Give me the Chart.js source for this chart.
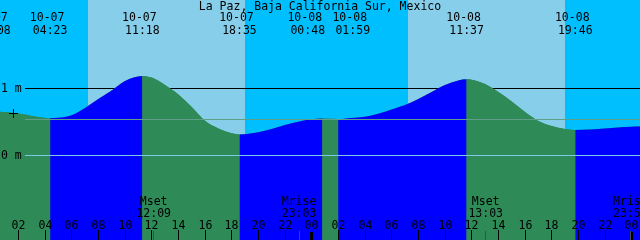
<!DOCTYPE html>
<html>
<head>
<meta charset="utf-8">
<script src="https://cdn.jsdelivr.net/npm/chart.js@4"></script>
<style>
    body { margin: 0; background: #00bfff; }
    canvas { display: block; }
</style>
</head>
<body>
<canvas id="tideChart" width="640" height="240"></canvas>
<script>
// Tide graph, hours counted from 10-07 00:00

const stationName = "La Paz, Baja California Sur, Mexico";

// water level (m)
const tideHours = [0.133, 1, 2, 3, 4, 4.383, 5, 6, 7, 8, 9, 10, 11.3,
    12, 13, 14, 15, 16, 17, 18, 18.583, 20, 21, 22, 23, 24, 24.8, 25.983,
    27, 28, 29, 30, 31, 32, 33, 34, 35, 35.617, 36, 37, 38, 39, 40, 41, 42,
    43, 43.767, 45, 46, 47, 48, 49];
const tideLevels = [0.655, 0.645, 0.622, 0.588, 0.558, 0.552, 0.559, 0.598, 0.706, 0.84, 0.967, 1.109, 1.184,
    1.16, 1.049, 0.907, 0.72, 0.515, 0.40, 0.328, 0.31, 0.343, 0.393, 0.452, 0.50, 0.537, 0.549, 0.540,
    0.556, 0.576, 0.619, 0.684, 0.751, 0.84, 0.945, 1.049, 1.116, 1.134, 1.128, 1.064, 0.945, 0.803, 0.646, 0.512, 0.437,
    0.393, 0.378, 0.385, 0.40, 0.415, 0.425, 0.43];

// high and low tides listed along the top
const eventDates = ["10-07", "10-07", "10-07", "10-07", "10-08", "10-08", "10-08", "10-08"];
const eventTimes = ["00:08", "04:23", "11:18", "18:35", "00:48", "01:59", "11:37", "19:46"];

// daylight
const sunriseDates = ["10-07", "10-08"];
const sunriseTimes = ["07:12", "07:13"];
const sunsetDates = ["10-07", "10-08"];
const sunsetTimes = ["19:00", "19:00"];

// moon events along the bottom
const moonNames = ["Mset", "Mrise", "Mset", "Mrise"];
const moonDates = ["10-07", "10-07", "10-08", "10-08"];
const moonTimes = ["12:09", "23:03", "13:03", "23:54"];

// level marks
const levelTicks = [0, 1];
const levelLabels = ["0 m", "1 m"];
const meanLevel = 0.53;
const markLevel = 0.63;

// hour ticks along the bottom
const hourTicks = [2, 4, 6, 8, 10, 12, 14, 16, 18, 20, 22, 24,
    26, 28, 30, 32, 34, 36, 38, 40, 42, 44, 46, 48];

const FONT = "11.5px 'DejaVu Sans Mono', monospace";
const RISING = "#0000ff";
const FALLING = "#2e8b57";

function toHours(date, time) {
    const day = parseInt(date.slice(3), 10) - 7;
    const [hh, mm] = time.split(":").map(Number);
    return day * 24 + hh + mm / 60;
}

const tidePlugin = {
    id: "tideGraph",
    beforeDatasetsDraw(chart) {
        const { ctx, chartArea: a, scales: { x, y } } = chart;
        ctx.save();
        // night sky
        ctx.fillStyle = "#00bfff";
        ctx.fillRect(a.left, a.top, a.width, a.height);
        // day sky
        ctx.fillStyle = "#87ceeb";
        sunriseDates.forEach((d, i) => {
            const x0 = Math.round(x.getPixelForValue(toHours(d, sunriseTimes[i])));
            const x1 = Math.round(x.getPixelForValue(toHours(sunsetDates[i], sunsetTimes[i])));
            ctx.fillRect(x0, a.top, x1 - x0, a.height);
        });
        // 1 m line sits behind the water
        ctx.fillStyle = "#000";
        ctx.fillRect(25, Math.floor(y.getPixelForValue(1)), a.right - 25, 1);
        ctx.restore();
    },
    afterDatasetsDraw(chart) {
        const { ctx, chartArea: a, scales: { x, y } } = chart;
        ctx.save();

        ctx.fillStyle = "#5f9f8a";
        ctx.fillRect(25, Math.floor(y.getPixelForValue(meanLevel)), a.right - 25, 1);
        ctx.fillStyle = "#7ec8e6";
        ctx.fillRect(25, Math.floor(y.getPixelForValue(0)), a.right - 25, 1);

        ctx.font = FONT;
        ctx.fillStyle = "#000";

        // level labels
        ctx.textAlign = "left";
        ctx.textBaseline = "middle";
        levelTicks.forEach((v, i) => {
            ctx.fillText(levelLabels[i], 1, y.getPixelForValue(v) + 0.5);
        });
        // "+" mark, drawn as a small cross
        const my = Math.floor(y.getPixelForValue(markLevel));
        ctx.fillRect(9, my, 9, 1);
        ctx.fillRect(13, my - 4, 1, 9);

        // title
        ctx.textAlign = "center";
        ctx.textBaseline = "alphabetic";
        ctx.fillText(stationName, 320, 10);

        // tide events, pushed apart when they crowd each other
        const centers = eventTimes.map((t, i) => x.getPixelForValue(toHours(eventDates[i], t)));
        for (let i = 0; i < centers.length - 1; i++) {
            if (centers[i + 1] - centers[i] < 45) {
                const mid = (centers[i] + centers[i + 1]) / 2;
                centers[i] = mid - 22.5;
                centers[i + 1] = mid + 22.5;
            }
        }
        centers.forEach((cx, i) => {
            ctx.fillText(eventDates[i], cx - 3, 21);
            ctx.fillText(eventTimes[i], cx, 34);
        });

        // hour ticks
        hourTicks.forEach(h => {
            const px = Math.floor(x.getPixelForValue(h));
            if (h % 24 === 0) {
                ctx.fillRect(px - 1, 232, 3, 8);
            } else {
                ctx.fillRect(px, 230, 1, 10);
            }
            ctx.fillText(String(h % 24).padStart(2, "0"), px + 0.5, 229);
        });

        // moon events
        moonNames.forEach((name, i) => {
            const px = x.getPixelForValue(toHours(moonDates[i], moonTimes[i]));
            ctx.fillStyle = "#4a4a4a";
            ctx.fillRect(Math.floor(px), 231, 1, 9);
            ctx.fillStyle = "#000";
            ctx.fillText(name, px, 205);
            ctx.fillText(moonTimes[i], px, 217);
        });

        ctx.restore();
    }
};

const tidePoints = tideHours.map((h, i) => ({ x: h, y: tideLevels[i] }));

new Chart(document.getElementById("tideChart").getContext("2d"), {
    type: "line",
    data: {
        datasets: [{
            // water, coloured by rising / falling tide
            data: tidePoints,
            fill: "start",
            borderWidth: 0,
            borderColor: "transparent",
            pointRadius: 0,
            cubicInterpolationMode: "monotone",
            backgroundColor: FALLING,
            segment: {
                backgroundColor: c => c.p1.parsed.y > c.p0.parsed.y ? RISING : FALLING
            }
        }, {
            // same water underneath, so the joins between colours stay solid
            data: tidePoints,
            fill: "start",
            borderWidth: 0,
            borderColor: "transparent",
            pointRadius: 0,
            cubicInterpolationMode: "monotone",
            backgroundColor: FALLING
        }]
    },
    options: {
        responsive: false,
        devicePixelRatio: 1,
        animation: false,
        layout: { padding: 0 },
        plugins: { legend: { display: false }, tooltip: { enabled: false } },
        scales: {
            x: { type: "linear", min: 0.6225, max: 48.6225, display: false },
            y: { min: -1.2642, max: 2.3179, display: false }
        }
    },
    plugins: [tidePlugin]
});
</script>
</body>
</html>
